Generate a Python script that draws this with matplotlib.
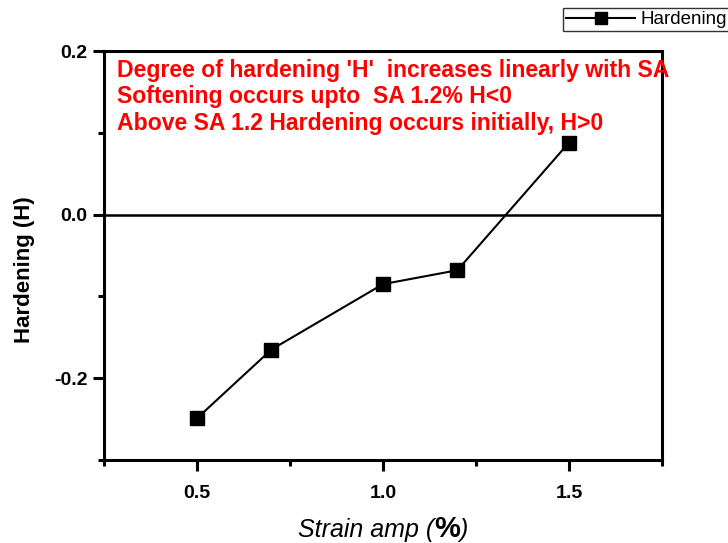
import numpy as np
import matplotlib
matplotlib.use("Agg")
import matplotlib.pyplot as plt
from matplotlib.offsetbox import TextArea, HPacker, AnchoredOffsetbox
from matplotlib.ticker import MultipleLocator

plt.rcParams['font.family'] = ['Liberation Sans', 'DejaVu Sans']
plt.rcParams['axes.unicode_minus'] = False

# strain amplitude (%) and degree of hardening
strain_amp = [0.5, 0.7, 1.0, 1.2, 1.5]
hardening = [-0.249, -0.165, -0.085, -0.068, 0.088]

notes = ["Degree of hardening 'H'  increases linearly with SA",
         "Softening occurs upto  SA 1.2% H<0",
         "Above SA 1.2 Hardening occurs initially, H>0"]

fig = plt.figure(figsize=(7.28, 5.43), dpi=100)
ax = fig.add_axes([0.1429, 0.1529, 0.9093 - 0.1429, 0.906 - 0.1529])

ax.plot(strain_amp, hardening, color='black', lw=1.5, marker='s',
        markersize=9.5, label='Hardening')
ax.axhline(0.0, color='black', lw=1.8)

ax.set_xlim(0.25, 1.75)
ax.set_ylim(-0.3, 0.2)
ax.xaxis.set_major_locator(MultipleLocator(0.5))
ax.xaxis.set_minor_locator(MultipleLocator(0.25))
ax.yaxis.set_major_locator(MultipleLocator(0.2))
ax.yaxis.set_minor_locator(MultipleLocator(0.1))
ax.set_xticks([0.5, 1.0, 1.5])
ax.set_xticklabels(['0.5', '1.0', '1.5'])

for s in ax.spines.values():
    s.set_linewidth(2.2)
ax.tick_params(which='major', direction='out', length=8, width=2.2,
               labelsize=14)
ax.tick_params(axis='x', which='major', pad=10)
ax.tick_params(axis='y', which='major', pad=4)
ax.tick_params(which='minor', direction='out', length=4, width=2.2)
for lab in ax.get_xticklabels() + ax.get_yticklabels():
    lab.set_fontweight('bold')

ax.set_ylabel('Hardening (H)', fontsize=16, fontweight='bold')
ax.yaxis.set_label_coords(-0.123, 0.465)

# x label: italic text with a bold, larger percent sign
parts = [TextArea("Strain amp (", textprops=dict(fontsize=18, style='italic')),
         TextArea("%", textprops=dict(fontsize=21, fontweight='bold')),
         TextArea(")", textprops=dict(fontsize=18, style='italic'))]
box = HPacker(children=parts, align='baseline', pad=0, sep=0)
xlab = AnchoredOffsetbox(loc='center', child=box, frameon=False, pad=0,
                         bbox_to_anchor=(0.5, -0.168),
                         bbox_transform=ax.transAxes, borderpad=0)
ax.add_artist(xlab)

for i, line in enumerate(notes):
    ax.text(0.023, 0.9535 - i * 0.065, line, transform=ax.transAxes,
            color='red', fontsize=16.6, fontweight='bold', va='center',
            ha='left', clip_on=False)

leg = fig.legend(loc='upper right', bbox_to_anchor=(1.003, 0.985),
                 fontsize=13.5, frameon=True, fancybox=False,
                 handlelength=3.7, handletextpad=0.3, borderpad=0.15,
                 borderaxespad=0)
leg.get_frame().set_edgecolor('black')
leg.get_frame().set_linewidth(1.0)
for h in leg.legend_handles:
    h.set_markersize(8)

fig.savefig('out.png', dpi=100)
